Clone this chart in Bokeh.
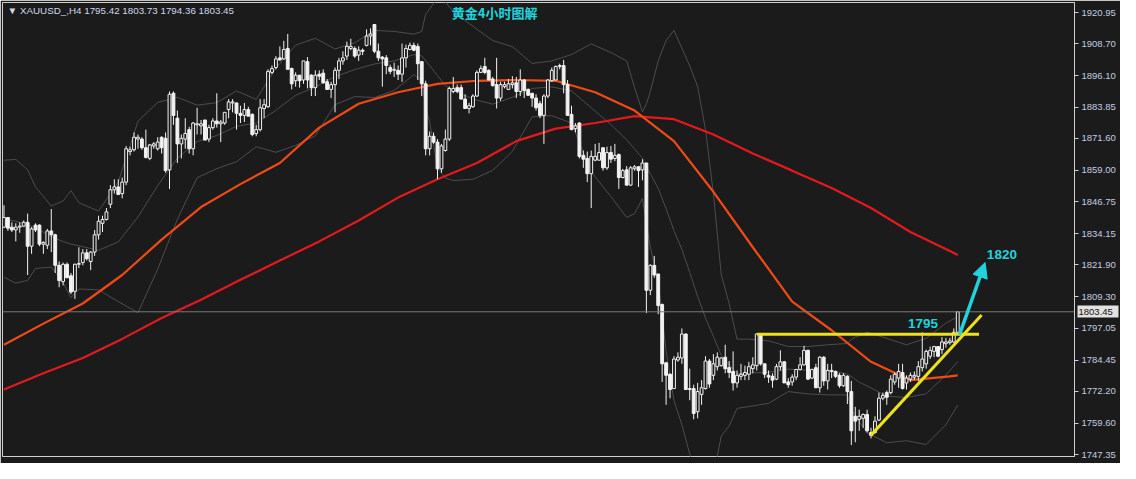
import numpy as np
from bokeh.plotting import figure
from bokeh.models import (Range1d, FixedTicker, NumeralTickFormatter, Label, Span, Arrow,
                          NormalHead, LinearAxis)
from bokeh.embed import file_html
from bokeh.resources import INLINE

# ---------------- data (XAUUSD H4) ----------------
opens = [
1836.7, 1840.5, 1836.7, 1835.6, 1836.7, 1837.1, 1838.6, 1829.2, 1837.5, 1837.5,
1830.0, 1829.6, 1835.2, 1833.7, 1821.7, 1815.3, 1822.1, 1817.6, 1811.5, 1822.1,
1822.8, 1826.6, 1823.2, 1826.9, 1833.7, 1838.2, 1839.7, 1845.7, 1851.4, 1852.5,
1849.9, 1854.4, 1866.4, 1867.1, 1871.3, 1871.3, 1867.9, 1863.7, 1868.6, 1867.5,
1872.0, 1871.6, 1859.2, 1889.3, 1879.5, 1869.4, 1871.3, 1875.0, 1867.5, 1876.9,
1876.5, 1878.8, 1871.3, 1875.8, 1878.4, 1877.3, 1877.6, 1882.9, 1885.5, 1885.5,
1881.4, 1880.6, 1882.9, 1881.0, 1873.5, 1875.0, 1883.3, 1884.0, 1897.5, 1899.4,
1903.2, 1902.8, 1906.9, 1899.0, 1894.2, 1896.4, 1894.5, 1901.7, 1896.4, 1891.5,
1896.8, 1897.2, 1893.8, 1890.8, 1892.7, 1898.3, 1902.0, 1903.9, 1906.9, 1906.9,
1904.3, 1906.2, 1908.1, 1911.8, 1916.3, 1905.8, 1903.5, 1903.2, 1899.4, 1898.3,
1898.3, 1896.8, 1903.2, 1906.5, 1908.1, 1907.7, 1901.7, 1893.0, 1867.5, 1872.4,
1870.1, 1859.6, 1866.8, 1871.3, 1890.0, 1891.5, 1891.5, 1887.0, 1883.3, 1884.0,
1888.2, 1897.5, 1899.8, 1898.3, 1894.9, 1892.7, 1887.4, 1891.9, 1890.8, 1892.7,
1893.4, 1890.0, 1894.5, 1890.8, 1889.3, 1887.4, 1885.2, 1880.6, 1888.2, 1894.2,
1894.5, 1899.8, 1900.2, 1892.7, 1881.0, 1875.4, 1877.6, 1864.9, 1863.7, 1857.7,
1863.0, 1863.0, 1867.9, 1860.0, 1866.0, 1863.7, 1865.2, 1856.2, 1859.2, 1853.2,
1859.6, 1860.4, 1859.2, 1861.9, 1811.9, 1821.7, 1818.3, 1806.3, 1783.4, 1778.9,
1773.3, 1784.5, 1785.3, 1794.7, 1773.3, 1773.3, 1764.2, 1771.0, 1773.3, 1784.1,
1778.5, 1781.9, 1782.3, 1785.6, 1781.5, 1780.0, 1775.5, 1778.1, 1778.5, 1778.9,
1781.1, 1782.3, 1794.7, 1783.0, 1778.5, 1778.1, 1777.0, 1781.9, 1783.8, 1775.9,
1775.9, 1777.8, 1780.8, 1782.6, 1788.3, 1777.4, 1781.5, 1773.6, 1785.6, 1776.3,
1780.0, 1780.0, 1778.5, 1774.4, 1778.1, 1772.1, 1762.4, 1761.2, 1761.6, 1763.1,
1756.0, 1756.0, 1760.9, 1769.5, 1771.7, 1771.7, 1775.9, 1777.4, 1779.6, 1775.5,
1777.0, 1777.8, 1778.1, 1781.5, 1783.0, 1786.0, 1787.9, 1789.8, 1788.6, 1790.9,
1791.3, 1791.6, 1795.42]

highs = [
1845.3, 1840.5, 1838.6, 1838.2, 1838.6, 1839.3, 1842.0, 1836.7, 1838.2, 1837.8,
1831.1, 1836.0, 1843.8, 1834.1, 1823.2, 1822.8, 1822.8, 1818.7, 1822.4, 1828.8,
1828.1, 1828.1, 1827.3, 1835.6, 1841.2, 1841.2, 1844.2, 1853.2, 1855.5, 1855.5,
1856.2, 1868.6, 1868.3, 1873.9, 1873.1, 1872.0, 1875.0, 1869.4, 1870.1, 1872.0,
1872.4, 1873.9, 1890.0, 1890.0, 1882.5, 1873.1, 1879.5, 1876.1, 1878.0, 1883.6,
1878.8, 1878.8, 1876.9, 1879.5, 1889.3, 1878.8, 1881.8, 1887.0, 1887.0, 1885.5,
1884.4, 1885.5, 1884.0, 1881.4, 1876.9, 1887.0, 1887.0, 1898.7, 1900.2, 1903.9,
1907.7, 1909.9, 1912.6, 1899.4, 1897.5, 1896.4, 1902.0, 1903.5, 1896.8, 1898.3,
1898.3, 1898.7, 1894.9, 1893.8, 1899.4, 1903.2, 1905.8, 1909.6, 1910.7, 1907.7,
1907.7, 1906.9, 1914.4, 1914.8, 1916.3, 1908.8, 1903.9, 1904.3, 1900.5, 1901.3,
1900.2, 1908.8, 1908.4, 1909.2, 1909.2, 1908.8, 1902.0, 1894.2, 1874.3, 1873.9,
1871.3, 1869.4, 1875.0, 1891.9, 1895.7, 1892.7, 1892.7, 1888.9, 1885.5, 1888.9,
1898.3, 1900.2, 1903.2, 1898.7, 1895.7, 1903.2, 1893.8, 1893.8, 1894.9, 1896.0,
1895.7, 1898.7, 1894.9, 1891.2, 1889.3, 1888.9, 1886.3, 1888.9, 1894.9, 1899.4,
1900.2, 1900.9, 1902.4, 1894.5, 1884.4, 1877.6, 1878.0, 1866.8, 1866.4, 1866.8,
1869.4, 1869.8, 1867.9, 1868.3, 1868.6, 1869.4, 1865.6, 1859.6, 1860.7, 1860.7,
1861.1, 1860.7, 1863.4, 1861.9, 1822.1, 1825.4, 1818.3, 1806.7, 1783.8, 1779.3,
1786.0, 1787.5, 1796.9, 1795.0, 1781.1, 1774.8, 1775.5, 1776.6, 1786.0, 1784.9,
1786.8, 1787.5, 1785.6, 1790.5, 1784.1, 1787.9, 1780.4, 1783.0, 1782.3, 1783.8,
1785.6, 1795.0, 1795.0, 1783.0, 1780.4, 1779.3, 1783.0, 1788.3, 1784.1, 1777.4,
1778.9, 1780.8, 1785.6, 1790.1, 1788.6, 1781.1, 1783.0, 1786.0, 1786.0, 1783.0,
1783.0, 1780.4, 1779.3, 1779.3, 1778.5, 1776.3, 1766.1, 1765.0, 1763.5, 1765.0,
1757.9, 1762.4, 1771.7, 1771.7, 1772.5, 1778.5, 1779.6, 1783.0, 1783.0, 1778.5,
1779.6, 1780.0, 1784.1, 1795.4, 1788.6, 1789.8, 1790.1, 1789.8, 1793.5, 1793.2,
1793.2, 1796.9, 1803.73]

lows = [
1836.3, 1835.2, 1834.8, 1831.1, 1834.5, 1836.7, 1817.9, 1826.2, 1834.8, 1829.2,
1826.2, 1828.1, 1826.9, 1818.7, 1813.1, 1813.8, 1816.8, 1810.4, 1808.5, 1820.6,
1821.7, 1823.6, 1819.8, 1825.4, 1831.8, 1834.8, 1839.3, 1844.2, 1849.9, 1849.5,
1848.0, 1853.2, 1864.9, 1866.4, 1867.5, 1867.1, 1863.7, 1863.0, 1867.5, 1866.8,
1865.6, 1858.1, 1851.7, 1876.9, 1861.9, 1863.7, 1867.5, 1865.6, 1864.9, 1873.1,
1873.1, 1870.9, 1870.1, 1875.0, 1875.8, 1870.1, 1876.9, 1879.5, 1881.8, 1875.0,
1877.6, 1878.0, 1880.3, 1872.4, 1872.4, 1874.3, 1879.5, 1883.6, 1896.8, 1898.7,
1902.0, 1902.4, 1898.7, 1890.8, 1891.9, 1891.5, 1893.0, 1891.2, 1888.2, 1888.2,
1894.5, 1893.0, 1890.8, 1887.4, 1881.8, 1894.9, 1900.5, 1902.4, 1906.2, 1903.2,
1902.0, 1904.3, 1907.7, 1908.1, 1905.0, 1902.0, 1891.9, 1896.8, 1896.8, 1895.7,
1894.5, 1893.8, 1899.4, 1906.2, 1905.8, 1894.5, 1888.2, 1864.9, 1864.9, 1869.4,
1855.5, 1858.1, 1866.4, 1870.5, 1889.3, 1889.3, 1887.0, 1883.3, 1881.4, 1883.6,
1887.8, 1897.2, 1896.8, 1894.5, 1891.9, 1883.3, 1886.3, 1891.2, 1890.8, 1891.2,
1887.4, 1888.2, 1887.4, 1888.2, 1884.0, 1882.5, 1879.5, 1869.4, 1887.4, 1893.8,
1894.5, 1898.7, 1889.3, 1880.6, 1875.0, 1873.9, 1863.7, 1860.0, 1854.4, 1844.2,
1862.6, 1863.0, 1858.9, 1859.2, 1861.9, 1862.6, 1851.7, 1855.9, 1853.2, 1852.9,
1858.9, 1852.5, 1855.1, 1802.9, 1810.0, 1816.8, 1802.5, 1775.9, 1766.9, 1769.5,
1773.3, 1783.8, 1783.0, 1772.9, 1768.7, 1761.2, 1761.6, 1766.9, 1772.9, 1773.6,
1776.6, 1780.4, 1781.9, 1779.3, 1777.4, 1772.5, 1773.6, 1776.6, 1776.6, 1776.6,
1779.3, 1780.4, 1782.3, 1777.4, 1775.5, 1773.6, 1776.6, 1780.4, 1775.5, 1773.6,
1774.4, 1776.6, 1780.4, 1782.3, 1776.6, 1777.0, 1773.6, 1771.7, 1774.4, 1772.9,
1777.4, 1777.4, 1773.6, 1774.0, 1767.2, 1751.1, 1752.2, 1756.7, 1757.9, 1756.0,
1753.7, 1755.6, 1760.5, 1768.7, 1766.9, 1771.0, 1774.8, 1773.6, 1772.9, 1772.9,
1775.9, 1776.6, 1776.3, 1780.0, 1781.1, 1784.9, 1785.6, 1785.6, 1786.8, 1789.4,
1790.5, 1791.3, 1794.36]

closes = [
1840.5, 1836.3, 1835.6, 1836.7, 1837.1, 1838.6, 1829.2, 1836.0, 1835.6, 1830.0,
1830.7, 1835.2, 1833.7, 1821.7, 1815.7, 1822.1, 1816.8, 1811.2, 1822.1, 1822.4,
1826.6, 1824.3, 1826.9, 1833.7, 1839.0, 1839.7, 1842.7, 1851.4, 1852.5, 1849.5,
1854.4, 1867.5, 1867.1, 1872.0, 1872.0, 1867.9, 1864.1, 1869.0, 1869.4, 1870.1,
1867.9, 1858.9, 1888.9, 1880.6, 1869.4, 1871.6, 1873.5, 1867.5, 1877.6, 1877.3,
1877.3, 1870.9, 1875.8, 1878.4, 1877.3, 1878.0, 1881.8, 1885.9, 1885.9, 1881.4,
1880.6, 1882.9, 1880.3, 1873.1, 1875.0, 1883.6, 1884.8, 1897.9, 1899.0, 1902.8,
1902.4, 1906.5, 1898.7, 1893.0, 1896.4, 1894.2, 1902.0, 1894.5, 1891.5, 1896.4,
1896.0, 1893.4, 1890.8, 1892.7, 1898.3, 1902.0, 1903.2, 1907.7, 1907.7, 1903.9,
1906.2, 1905.8, 1911.8, 1912.6, 1905.8, 1903.2, 1902.8, 1900.2, 1897.9, 1898.7,
1896.8, 1903.2, 1906.9, 1908.1, 1906.2, 1900.9, 1893.0, 1867.5, 1872.4, 1870.1,
1859.6, 1868.6, 1871.3, 1891.2, 1891.2, 1890.0, 1887.0, 1883.3, 1884.4, 1888.2,
1897.5, 1899.0, 1897.5, 1894.5, 1892.3, 1887.4, 1892.7, 1892.7, 1893.0, 1893.4,
1890.0, 1894.5, 1890.4, 1888.5, 1887.4, 1883.6, 1880.6, 1888.2, 1894.5, 1898.3,
1899.8, 1900.2, 1892.7, 1880.6, 1875.0, 1876.5, 1864.5, 1863.4, 1857.7, 1864.5,
1864.5, 1866.0, 1860.0, 1866.0, 1863.4, 1864.9, 1856.2, 1858.9, 1853.2, 1860.0,
1860.4, 1858.9, 1861.9, 1811.9, 1821.7, 1817.9, 1805.9, 1783.0, 1778.5, 1772.9,
1784.9, 1785.6, 1794.7, 1772.9, 1772.9, 1763.5, 1772.1, 1773.6, 1784.1, 1775.1,
1783.0, 1785.6, 1785.3, 1781.1, 1779.6, 1775.5, 1778.5, 1778.9, 1779.6, 1781.9,
1782.6, 1794.7, 1783.0, 1778.9, 1777.8, 1776.6, 1781.9, 1783.8, 1775.5, 1774.8,
1777.8, 1780.8, 1782.6, 1788.3, 1777.0, 1780.8, 1773.6, 1785.6, 1776.3, 1780.4,
1780.4, 1778.1, 1774.4, 1778.5, 1772.1, 1756.7, 1760.5, 1762.4, 1763.1, 1756.7,
1754.9, 1760.5, 1769.5, 1770.6, 1769.9, 1777.0, 1778.9, 1780.0, 1773.3, 1777.4,
1778.5, 1778.5, 1781.9, 1784.9, 1787.9, 1788.3, 1789.8, 1786.0, 1791.6, 1791.6,
1792.0, 1795.4, 1803.45]

# Bollinger bands (bar index -> price)
band_idx = [0, 3, 6, 8, 12, 15, 17, 19,
            24, 29, 34, 39, 44, 49, 54, 59, 64, 69,
            74, 79, 84, 89, 94, 99, 104, 106, 107, 108,
            110, 112, 114, 119, 124, 129, 134, 139, 144, 149,
            154, 158, 160, 162, 163, 164, 166, 168, 170, 172,
            174, 176, 178, 180, 182, 184, 186, 189, 194, 199,
            204, 209, 214, 215, 216, 217, 219, 224, 229, 234,
            239, 242]
bb_upper = [1863.0, 1863.3, 1859.2, 1852.5, 1845.0, 1847.0, 1851.0, 1846.3,
            1843.0, 1854.4, 1878.3, 1885.7, 1887.7, 1884.6, 1885.6, 1890.2, 1886.9, 1899.1,
            1908.2, 1910.9, 1906.7, 1909.1, 1914.0, 1913.6, 1912.5, 1913.6, 1920.4, 1922.4,
            1926.7, 1925.2, 1921.3, 1915.6, 1910.0, 1907.6, 1901.0, 1902.0, 1904.5, 1908.7,
            1905.3, 1902.0, 1891.5, 1882.0, 1885.1, 1890.0, 1902.0, 1910.0, 1914.0, 1907.0,
            1900.0, 1892.0, 1875.0, 1850.0, 1818.0, 1806.7, 1792.7, 1792.7, 1792.0, 1789.8,
            1789.8, 1790.5, 1791.0, 1792.5, 1793.5, 1794.0, 1795.5, 1793.0, 1790.5, 1793.0,
            1799.0, 1801.5]
bb_mid = [1840.0, 1839.0, 1837.5, 1836.5, 1833.0, 1831.0, 1830.0, 1829.4,
          1827.6, 1830.9, 1840.7, 1853.0, 1863.8, 1870.3, 1872.7, 1876.3, 1877.6, 1882.6,
          1888.5, 1891.8, 1895.8, 1898.6, 1900.8, 1902.0, 1904.5, 1904.0, 1902.0, 1900.2,
          1896.2, 1892.3, 1890.5, 1887.0, 1885.0, 1887.7, 1891.2, 1891.8, 1890.2, 1883.6,
          1877.0, 1871.0, 1867.4, 1863.8, 1860.4, 1857.7, 1851.9, 1843.9, 1835.3, 1828.0,
          1818.9, 1809.5, 1801.0, 1793.8, 1786.3, 1782.6, 1779.1, 1779.4, 1779.7, 1780.9,
          1780.5, 1780.6, 1779.0, 1778.0, 1776.9, 1775.8, 1774.3, 1770.3, 1769.8, 1771.2,
          1778.6, 1783.9]
bb_lower = [1817.0, 1814.7, 1815.8, 1820.5, 1821.0, 1815.0, 1809.0, 1812.4,
            1812.1, 1807.4, 1803.1, 1820.2, 1839.8, 1856.1, 1859.7, 1862.4, 1868.3, 1866.1,
            1868.8, 1872.6, 1884.8, 1888.0, 1887.6, 1890.4, 1896.6, 1894.3, 1883.5, 1878.0,
            1860.0, 1856.0, 1855.0, 1855.5, 1859.0, 1866.5, 1880.0, 1880.5, 1877.6, 1858.4,
            1848.7, 1840.5, 1842.0, 1848.0, 1838.0, 1829.0, 1815.0, 1788.0, 1768.6, 1759.1,
            1747.5, 1738.5, 1736.0, 1739.2, 1754.6, 1758.6, 1765.5, 1766.2, 1767.5, 1772.1,
            1771.2, 1770.8, 1770.8, 1765.3, 1762.3, 1760.3, 1755.9, 1752.0, 1752.8, 1751.3,
            1759.1, 1766.8]

# moving averages
ma_idx = [0, 10, 20, 30, 40, 50, 60, 70, 80, 90, 100, 110, 120, 130, 140, 150, 160, 170,
          180, 190, 200, 210, 220, 230, 240, 242]
ma_fast = [1790.5, 1798.8, 1806.7, 1817.9, 1831.8, 1844.6, 1853.6, 1861.9, 1875.8, 1885.2,
           1889.7, 1893.0, 1894.2, 1894.5, 1894.2, 1889.7, 1882.5, 1870.5, 1850.6, 1828.8,
           1807.4, 1796.2, 1783.8, 1776.6, 1778.1, 1778.5]
ma_slow = [1772.9, 1779.3, 1785.3, 1792.8, 1801.0, 1808.2, 1816.0, 1823.6, 1831.1, 1839.3,
           1848.3, 1855.5, 1861.9, 1870.5, 1875.4, 1877.6, 1880.3, 1879.1, 1873.1, 1865.6,
           1858.9, 1852.1, 1844.2, 1834.8, 1827.3, 1825.8]

tick_values = [1920.95, 1908.70, 1896.10, 1883.85, 1871.60, 1859.00, 1846.75, 1834.15,
               1821.90, 1809.30, 1797.05, 1784.45, 1772.20, 1759.60, 1747.35]
last_price = 1803.45
info_text = "\u25bc XAUUSD_,H4  1795.42 1803.73 1794.36 1803.45"
title_text = "黄金4小时图解"

# hand-drawn analysis marks (bar index, price)
level_x = [191.1, 247.4]
level_y = [1794.6, 1794.6]
trend_x = [219.95, 248.05]
trend_y = [1754.9, 1802.2]
arrow_x = [242.45, 248.95]
arrow_y = [1794.5, 1822.8]
level_label = ("1795", 233.2, 1798.8)
target_label = ("1820", 253.2, 1825.9)

# ---------------- styling ----------------
BG = "#1b1b1b"
WHITE = "#f2f2f2"
CYAN = "#22d3dd"
YELLOW = "#ece21c"
BAND = "#4d4d4d"
AXIS_FONT = "Liberation Sans"
AXIS_SIZE = "9.5px"

FRAME_W, FRAME_H = 1072, 454
LEFT, TOP, BOTTOM, RIGHT = 2, 2, 7, 46

idx = np.arange(len(closes))
o = np.array(opens)
c = np.array(closes)
h = np.array(highs)
l = np.array(lows)
bull = c >= o
bear = ~bull

p = figure(frame_width=FRAME_W, frame_height=FRAME_H,
           x_range=Range1d(-0.375, 271.625), y_range=Range1d(1746.6, 1924.95),
           output_backend="svg", toolbar_location=None,
           x_axis_location=None, y_axis_location="right",
           background_fill_color=BG, border_fill_color=BG,
           min_border_left=LEFT, min_border_top=TOP, min_border_bottom=BOTTOM,
           min_border_right=RIGHT)
p.grid.visible = False
p.outline_line_color = "#cfcfcf"
p.outline_line_width = 1

ax = p.yaxis[0]
ax.ticker = FixedTicker(ticks=tick_values)
ax.formatter = NumeralTickFormatter(format="0.00")
ax.axis_line_color = "#cfcfcf"
ax.major_tick_line_color = "#cfcfcf"
ax.major_tick_out = 4
ax.major_tick_in = 0
ax.minor_tick_line_color = None
ax.major_label_text_color = "#c4cce2"
ax.major_label_text_font = AXIS_FONT
ax.major_label_text_font_size = AXIS_SIZE
ax.major_label_standoff = 3

# second, outer axis that only carries the last-price tag; its inward tick is the
# light box and its label is pulled back over the main axis area
tag = LinearAxis(ticker=FixedTicker(ticks=[last_price]),
                 formatter=NumeralTickFormatter(format="0.00"))
tag.axis_line_color = None
tag.minor_tick_line_color = None
tag.major_tick_line_color = "#e2e2e2"
tag.major_tick_line_width = 12
tag.major_tick_in = 41
tag.major_tick_out = 0
tag.major_label_standoff = -40
tag.major_label_text_color = "#111111"
tag.major_label_text_font = AXIS_FONT
tag.major_label_text_font_size = AXIS_SIZE
p.add_layout(tag, "right")

# Bollinger bands
for arr in (bb_upper, bb_mid, bb_lower):
    p.line(band_idx, arr, line_color=BAND, line_width=1)

# moving averages
p.line(ma_idx, ma_slow, line_color="#e3191d", line_width=2.2)
p.line(ma_idx, ma_fast, line_color="#f24a16", line_width=2.2)

# current price line
p.add_layout(Span(location=last_price, dimension="width", line_color="#7a7a7a", line_width=1))

# candles
p.segment(x0=idx, y0=l, x1=idx, y1=h, line_color=WHITE, line_width=1)
p.vbar(x=idx[bull], width=0.72, top=c[bull], bottom=o[bull],
       fill_color=BG, line_color=WHITE, line_width=1)
p.vbar(x=idx[bear], width=0.72, top=o[bear], bottom=c[bear],
       fill_color=WHITE, line_color=WHITE, line_width=1)

# analysis marks
p.line(level_x, level_y, line_color=YELLOW, line_width=3)
p.line(trend_x, trend_y, line_color=YELLOW, line_width=3)
p.add_layout(Arrow(end=NormalHead(size=15, fill_color=CYAN, line_color=CYAN),
                   x_start=arrow_x[0], y_start=arrow_y[0], x_end=arrow_x[1], y_end=arrow_y[1],
                   line_color=CYAN, line_width=3.5))

for txt, xx, yy in (level_label, target_label):
    p.add_layout(Label(x=xx, y=yy, text=txt, text_color=CYAN, text_font="Liberation Sans",
                       text_font_style="bold", text_font_size="13.5px",
                       text_align="center", text_baseline="middle"))

p.add_layout(Label(x=124.5, y=1920.9, text=title_text, text_color=CYAN,
                   text_font="Noto Sans CJK SC", text_font_style="bold", text_font_size="13px",
                   text_align="center", text_baseline="middle"))
p.add_layout(Label(x=0.9, y=1921.9, text=info_text, text_color="#d0d8ee",
                   text_font="Liberation Sans", text_font_size="9.8px",
                   text_align="left", text_baseline="middle"))

open("out.html", "w").write(file_html(p, INLINE))
